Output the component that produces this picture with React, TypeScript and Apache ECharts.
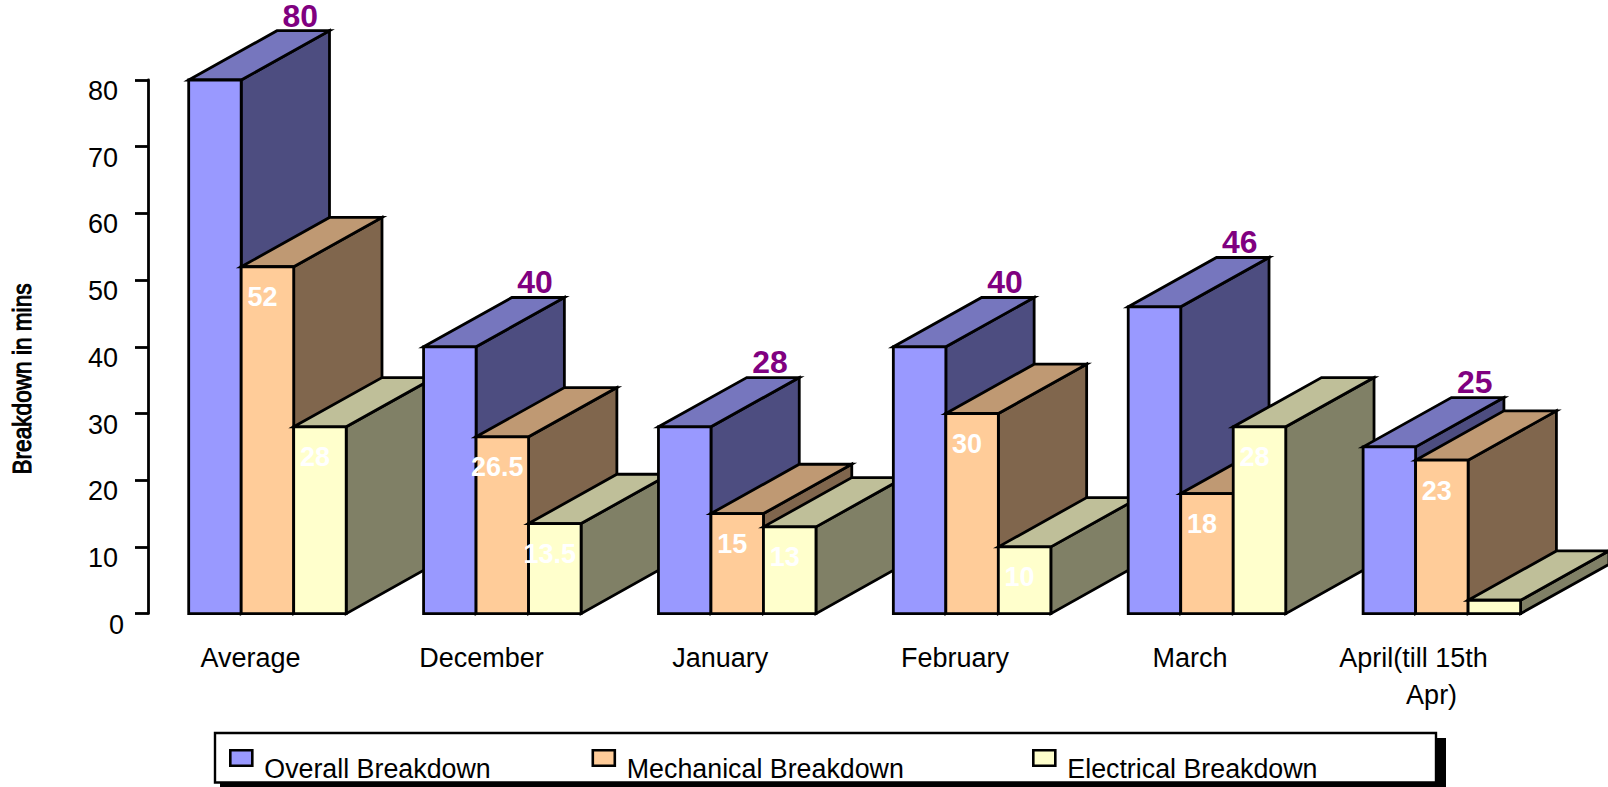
import React, { useEffect, useRef } from "react";
import * as echarts from "echarts";

const categories = ["Average", "December ", "January", "February", "March", "April(till 15th   \n  Apr)"];
const overall = [80, 40, 28, 40, 46, 25];
const mechanical = [52, 26.5, 15, 30, 18, 23];
const electrical = [28, 13.5, 13, 10, 28, 2];
const yTicks = { min: 0, max: 80, interval: 10 };

const FONT = '"Liberation Sans", Arial, sans-serif';
const BAR_WIDTH = 52.5;
const DEPTH_X = 88.3;
const DEPTH_Y = 49.3;
const MIN_LABELLED = 5;

const palettes = [
  { front: "#9999FF", top: "#7676BE", side: "#4D4D80" },
  { front: "#FFCC99", top: "#BF9973", side: "#80664D" },
  { front: "#FFFFCC", top: "#BFBF99", side: "#808066" },
];

// Draws one extruded column: front, top and side faces plus its value label.
function columnRenderer(seriesSlot: number) {
  return (_params: any, api: any) => {
    const cat = api.value(0);
    const val = api.value(1);
    const base = api.coord([cat, 0]);
    const head = api.coord([cat, val]);
    const left = base[0] - 1.5 * BAR_WIDTH + seriesSlot * BAR_WIDTH;
    const right = left + BAR_WIDTH;
    const yTop = head[1];
    const yBase = base[1];
    const colours = palettes[seriesSlot];
    const order = cat * 10 + seriesSlot;
    const edge = { stroke: "#000", lineWidth: 2.8, lineJoin: "miter" };

    const children: any[] = [
      {
        type: "polygon",
        z2: order,
        shape: {
          points: [
            [right, yTop],
            [right + DEPTH_X, yTop - DEPTH_Y],
            [right + DEPTH_X, yBase - DEPTH_Y],
            [right, yBase],
          ],
        },
        style: { fill: colours.side, ...edge },
      },
      {
        type: "polygon",
        z2: order,
        shape: {
          points: [
            [left, yTop],
            [left + DEPTH_X, yTop - DEPTH_Y],
            [right + DEPTH_X, yTop - DEPTH_Y],
            [right, yTop],
          ],
        },
        style: { fill: colours.top, ...edge },
      },
      {
        type: "polygon",
        z2: order,
        shape: {
          points: [
            [left, yTop],
            [right, yTop],
            [right, yBase],
            [left, yBase],
          ],
        },
        style: { fill: colours.front, ...edge },
      },
    ];

    if (val >= MIN_LABELLED) {
      const onTop = seriesSlot === 0;
      children.push({
        type: "text",
        z2: 1000,
        x: onTop ? left + BAR_WIDTH / 2 + DEPTH_X - 3 : left + BAR_WIDTH / 2 - 5,
        y: onTop ? yTop - DEPTH_Y + 1 : yTop + 44,
        scaleX: onTop ? 1.03 : 1,
        style: {
          text: String(val),
          fill: onTop ? "#800080" : "#FFFFFF",
          font: `bold ${onTop ? 31 : 27}px ${FONT}`,
          textAlign: "center",
          textVerticalAlign: "bottom",
        },
      });
    }
    return { type: "group", children };
  };
}

function makeSeries(name: string, values: number[], slot: number) {
  return {
    type: "custom",
    name,
    coordinateSystem: "cartesian2d",
    clip: false,
    silent: true,
    itemStyle: { color: palettes[slot].front },
    encode: { x: 0, y: 1 },
    data: values.map((v, i) => [i, v]),
    renderItem: columnRenderer(slot),
  };
}

// The legend's entries sit at uneven intervals, so each gets its own component.
function legendEntry(name: string, left: number) {
  return {
    data: [name],
    left,
    top: 749,
    orient: "horizontal",
    icon: "rect",
    itemWidth: 22,
    itemHeight: 15.5,
    itemGap: 0,
    padding: 0,
    selectedMode: false,
    itemStyle: { borderColor: "#000", borderWidth: 2.6 },
    formatter: "{entry|{name}}",
    textStyle: {
      fontFamily: FONT,
      fontSize: 26.8,
      color: "#000",
      rich: {
        entry: {
          fontFamily: FONT,
          fontSize: 26.8,
          color: "#000",
          padding: [22, 0, 0, 7],
        },
      },
    },
  };
}

export default function App() {
  const host = useRef<HTMLDivElement>(null);

  useEffect(() => {
    const chart = echarts.init(host.current!, undefined, { renderer: "svg" });
    chart.setOption({
      animation: false,
      backgroundColor: "#fff",
      grid: { left: 150, right: 48.7, top: 80, bottom: 173.4, containLabel: false },
      xAxis: {
        type: "category",
        data: categories,
        axisLine: { show: false },
        axisTick: { show: false },
        axisLabel: {
          interval: 0,
          margin: 26,
          padding: [0, 34, 0, 0],
          fontFamily: FONT,
          fontSize: 27,
          color: "#000",
          lineHeight: 37,
        },
      },
      yAxis: {
        type: "value",
        min: yTicks.min,
        max: yTicks.max,
        interval: yTicks.interval,
        offset: 2,
        splitLine: { show: false },
        axisLine: { show: true, lineStyle: { color: "#000", width: 2.8 } },
        axisTick: { show: true, length: 13, lineStyle: { color: "#000", width: 2.8 } },
        axisLabel: {
          margin: 24,
          padding: [22, 0, 0, 0],
          fontFamily: FONT,
          fontSize: 27,
          color: "#000",
          formatter: (v: number) => (v === 0 ? "0" : `{t|${v}}`),
          rich: {
            t: { fontFamily: FONT, fontSize: 27, color: "#000", padding: [0, 6, 0, 0] },
          },
        },
      },
      legend: [
        legendEntry("Overall Breakdown", 229),
        legendEntry("Mechanical Breakdown", 591.5),
        legendEntry("Electrical Breakdown", 1032),
      ],
      series: [
        makeSeries("Overall Breakdown", overall, 0),
        makeSeries("Mechanical Breakdown", mechanical, 1),
        makeSeries("Electrical Breakdown", electrical, 2),
      ],
      graphic: [
        {
          type: "rect",
          z: 0,
          silent: true,
          shape: { x: 220, y: 738, width: 1226, height: 49 },
          style: { fill: "#000" },
        },
        {
          type: "rect",
          z: 1,
          silent: true,
          shape: { x: 215, y: 733, width: 1221, height: 49.5 },
          style: { fill: "#fff", stroke: "#000", lineWidth: 2.4 },
        },
        {
          type: "text",
          z: 3,
          silent: true,
          x: 22,
          y: 379,
          rotation: Math.PI / 2,
          scaleX: 0.87,
          style: {
            text: "Breakdown in mins",
            font: `26px ${FONT}`,
            fill: "#000",
            stroke: "#000",
            lineWidth: 1,
            textAlign: "center",
            textVerticalAlign: "middle",
          },
        },
      ],
    });
    return () => chart.dispose();
  }, []);

  return (
    <div
      ref={host}
      style={{ position: "fixed", left: 0, top: 0, width: 1608, height: 787, overflow: "hidden" }}
    />
  );
}
